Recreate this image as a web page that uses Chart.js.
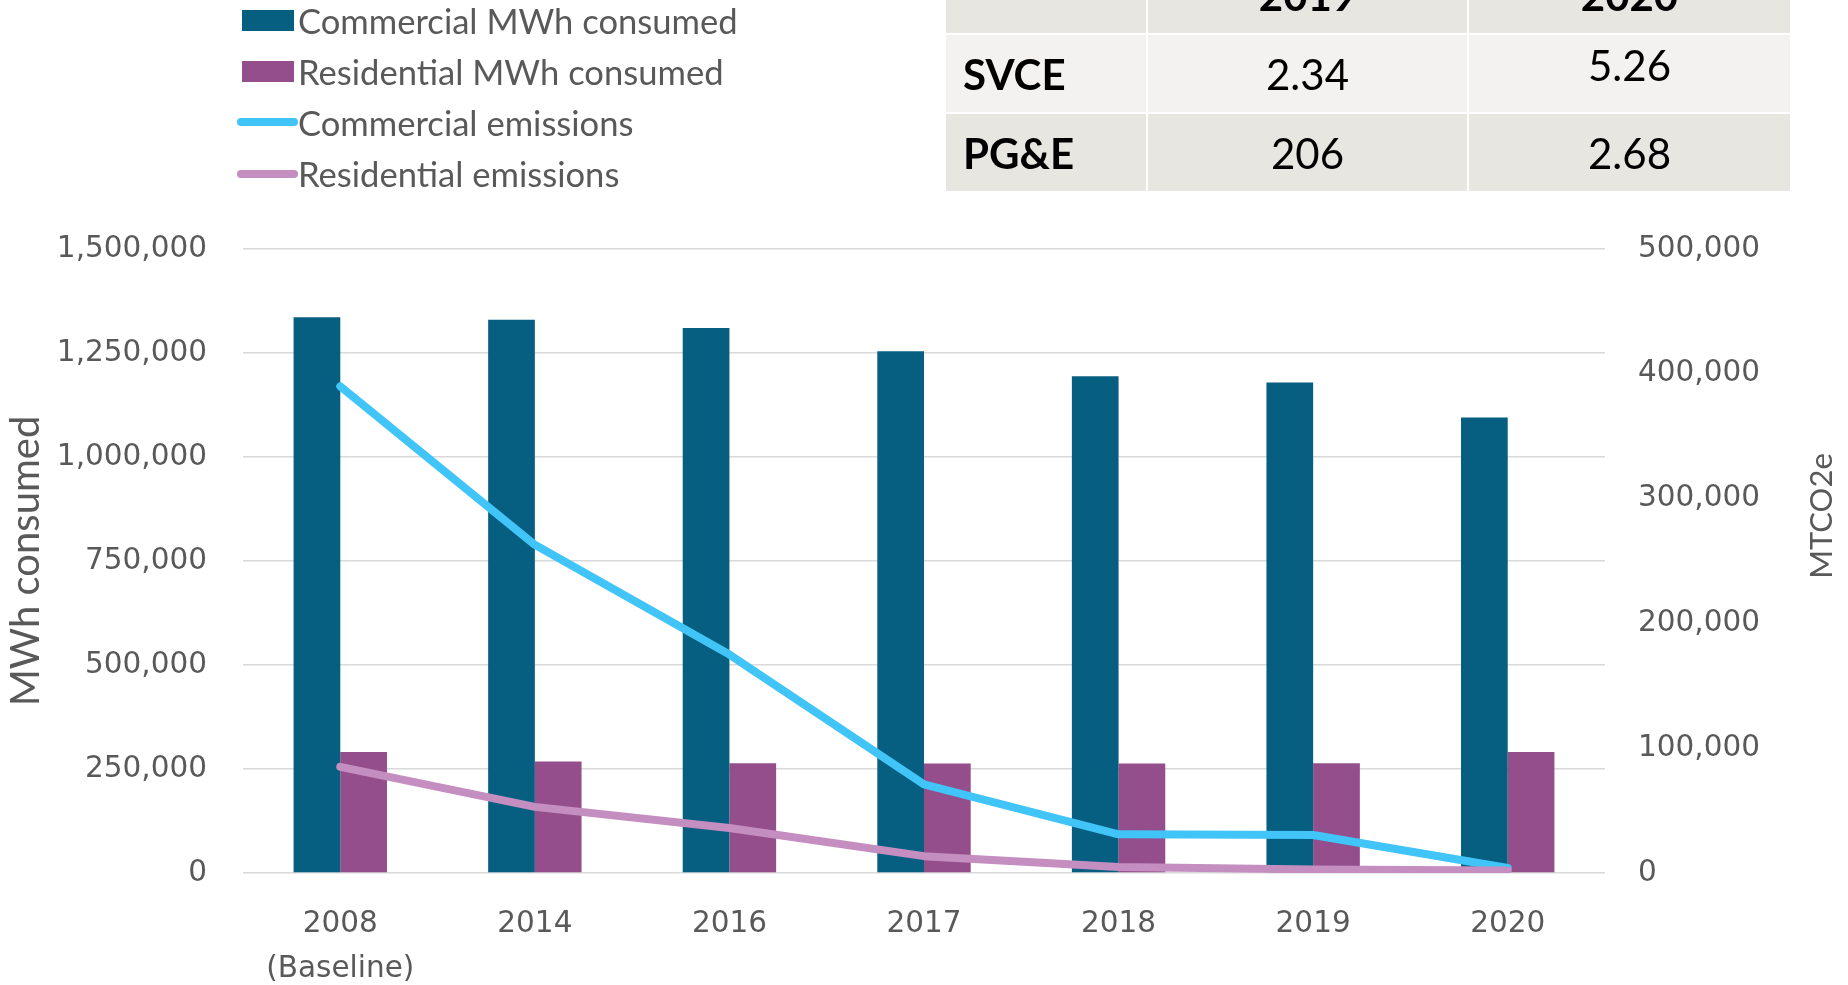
<!DOCTYPE html>
<html>
<head>
<meta charset="utf-8">
<script src="https://cdn.jsdelivr.net/npm/chart.js@4.4.1/dist/chart.umd.min.js"></script>
<style>
  html, body { margin: 0; padding: 0; background: #fff; }
  #wrap { position: relative; width: 1848px; height: 985px; overflow: hidden; }
  #mainChart { position: absolute; left: 0; top: 0; }

  /* legend (built from the chart datasets) */
  #legend { position: absolute; left: 237px; top: 0; font-family: Lato, "Open Sans", sans-serif; font-size: 34.6px; color: #595959; }
  .lg-row { position: absolute; left: 0; height: 40px; display: flex; align-items: center; white-space: nowrap; }
  .lg-swatch { width: 61px; height: 40px; display: flex; align-items: center; }
  .lg-box { margin-left: 5px; width: 52px; height: 21px; }
  .lg-line { width: 61px; height: 8px; border-radius: 4px; }

  /* emission factor table */
  #factorTable { position: absolute; left: 944px; top: -46px; border-collapse: separate; border-spacing: 2.5px; table-layout: fixed;
                 font-family: Lato, "Open Sans", sans-serif; font-size: 42px; color: #000; }
  #factorTable td { height: 77px; padding: 0; text-align: center; vertical-align: middle; }
  #factorTable tr.head td, #factorTable tr.odd td { background: #e8e6e1; }
  #factorTable tr.even td { background: #f3f2f0; }
  #factorTable tr.head td { font-weight: bold; }
  #factorTable td.rowname { text-align: left; padding-left: 17px; font-weight: bold; }
  #factorTable span.up { position: relative; top: -9px; }
</style>
</head>
<body>
<div id="wrap">
  <canvas id="mainChart" width="1848" height="985"></canvas>
  <div id="legend"></div>
  <table id="factorTable"></table>
</div>

<script>
/* ================= DATA ================= */
const categories = [['2008', '(Baseline)'], '2014', '2016', '2017', '2018', '2019', '2020'];

const commercialMWh  = [1336000, 1330000, 1310000, 1254000, 1194000, 1179000, 1095000];
const residentialMWh = [291000, 268000, 264000, 263000, 263000, 264000, 291000];

const commercialEmissions  = [390000, 263000, 175000, 71000, 31000, 30500, 4000];
const residentialEmissions = [85000, 53000, 36000, 13500, 4900, 2900, 2000];

const leftAxisTitle  = 'MWh consumed';
const rightAxisTitle = 'MTCO2e';

const tableYears  = ['2019', '2020'];
const tableRows   = ['SVCE', 'PG&E'];
const svceFactors = ['2.34', '5.26'];
const pgeFactors  = ['206', '2.68'];

/* ================= COLORS ================= */
const COL_COMM_BAR  = '#065e80';
const COL_RES_BAR   = '#934e8b';
const COL_COMM_LINE = '#41c4f7';
const COL_RES_LINE  = '#c48ec0';
const COL_TEXT      = '#595959';
const COL_GRID      = '#d9d9d9';

const fmt = v => Number(v).toLocaleString('en-US');

/* =========================
   RIGHT AXIS TITLE (reads bottom-to-top, like the left one)
========================= */
const rightTitlePlugin = {
    id: 'rightTitle',
    afterDraw(chart) {
        const s = chart.scales.y1;
        const ctx = chart.ctx;
        ctx.save();
        ctx.translate(s.right - 26, (s.top + s.bottom) / 2 - 45);
        ctx.rotate(-Math.PI / 2);
        ctx.font = '31px Lato, "Open Sans", sans-serif';
        ctx.fillStyle = COL_TEXT;
        ctx.textAlign = 'center';
        ctx.textBaseline = 'middle';
        ctx.fillText(rightAxisTitle, 0, 0);
        ctx.restore();
    }
};

/* =========================
   CHART
========================= */
const tickFont = { family: '"DejaVu Sans", Verdana, sans-serif', size: 29.5 };

const chart = new Chart(document.getElementById('mainChart').getContext('2d'), {
    data: {
        labels: categories,
        datasets: [
            {
                type: 'bar',
                label: 'Commercial MWh consumed',
                data: commercialMWh,
                backgroundColor: COL_COMM_BAR,
                yAxisID: 'y',
                order: 3
            },
            {
                type: 'bar',
                label: 'Residential MWh consumed',
                data: residentialMWh,
                backgroundColor: COL_RES_BAR,
                yAxisID: 'y',
                order: 3
            },
            {
                type: 'line',
                label: 'Commercial emissions',
                data: commercialEmissions,
                borderColor: COL_COMM_LINE,
                backgroundColor: COL_COMM_LINE,
                borderWidth: 8,
                borderCapStyle: 'round',
                borderJoinStyle: 'round',
                pointRadius: 0,
                tension: 0,
                yAxisID: 'y1',
                order: 2
            },
            {
                type: 'line',
                label: 'Residential emissions',
                data: residentialEmissions,
                borderColor: COL_RES_LINE,
                backgroundColor: COL_RES_LINE,
                borderWidth: 8,
                borderCapStyle: 'round',
                borderJoinStyle: 'round',
                pointRadius: 0,
                tension: 0,
                yAxisID: 'y1',
                order: 1
            }
        ]
    },
    options: {
        responsive: false,
        animation: false,
        devicePixelRatio: 1,
        layout: { padding: { top: 249, left: 0, right: 0, bottom: 0 } },
        datasets: {
            bar: { categoryPercentage: 0.48, barPercentage: 1 }
        },
        plugins: {
            legend: { display: false },
            tooltip: { enabled: false }
        },
        scales: {
            x: {
                grid: { display: false },
                border: { display: false },
                ticks: { color: COL_TEXT, font: { ...tickFont, lineHeight: 1.55 }, padding: 20, maxRotation: 0 },
                afterFit: s => { s.height = 112; }
            },
            y: {
                position: 'left',
                min: 0,
                max: 1500000,
                grid: { color: COL_GRID, lineWidth: 1.5, drawTicks: false },
                border: { display: false },
                ticks: { stepSize: 250000, color: COL_TEXT, font: tickFont, padding: 36, callback: v => fmt(v) },
                title: {
                    display: true,
                    text: leftAxisTitle,
                    color: COL_TEXT,
                    font: { family: 'Lato, "Open Sans", sans-serif', size: 40, lineHeight: 1.2 },
                    padding: { top: 2, bottom: 0 }
                },
                afterFit: s => { s.width = 243; }
            },
            y1: {
                position: 'right',
                min: 0,
                max: 500000,
                grid: { drawOnChartArea: false, drawTicks: false },
                border: { display: false },
                ticks: { stepSize: 100000, color: COL_TEXT, font: tickFont, padding: 33, callback: v => fmt(v) },
                afterFit: s => { s.width = 243; }
            }
        }
    },
    plugins: [rightTitlePlugin]
});

/* =========================
   HTML LEGEND
========================= */
function renderLegend(ch) {
    const box = document.getElementById('legend');
    box.innerHTML = '';
    ch.data.datasets.forEach((ds, i) => {
        const row = document.createElement('div');
        row.className = 'lg-row';
        row.style.top = (0 + i * 51.2) + 'px';
        const sw = document.createElement('div');
        sw.className = 'lg-swatch';
        const mark = document.createElement('div');
        mark.className = ds.type === 'line' ? 'lg-line' : 'lg-box';
        mark.style.background = ds.type === 'line' ? ds.borderColor : ds.backgroundColor;
        sw.appendChild(mark);
        const txt = document.createElement('span');
        txt.textContent = ds.label;
        row.appendChild(sw);
        row.appendChild(txt);
        box.appendChild(row);
    });
}

/* =========================
   FACTOR TABLE
========================= */
function renderTable() {
    const t = document.getElementById('factorTable');
    const colW = [200, 319, 321];
    let html = '<colgroup>' + colW.map(w => `<col style="width:${w}px">`).join('') + '</colgroup>';
    html += '<tr class="head"><td></td>' + tableYears.map(y => `<td>${y}</td>`).join('') + '</tr>';
    const rowsVals = [svceFactors, pgeFactors];
    tableRows.forEach((name, r) => {
        const cls = r % 2 === 0 ? 'even' : 'odd';
        html += `<tr class="${cls}"><td class="rowname">${name.replace('&', '&amp;')}</td>`;
        rowsVals[r].forEach((v, c) => {
            // 5.26 sits a little high in the source table
            const inner = (r === 0 && c === 1) ? `<span class="up">${v}</span>` : v;
            html += `<td>${inner}</td>`;
        });
        html += '</tr>';
    });
    t.innerHTML = html;
}

renderLegend(chart);
renderTable();
</script>
</body>
</html>
